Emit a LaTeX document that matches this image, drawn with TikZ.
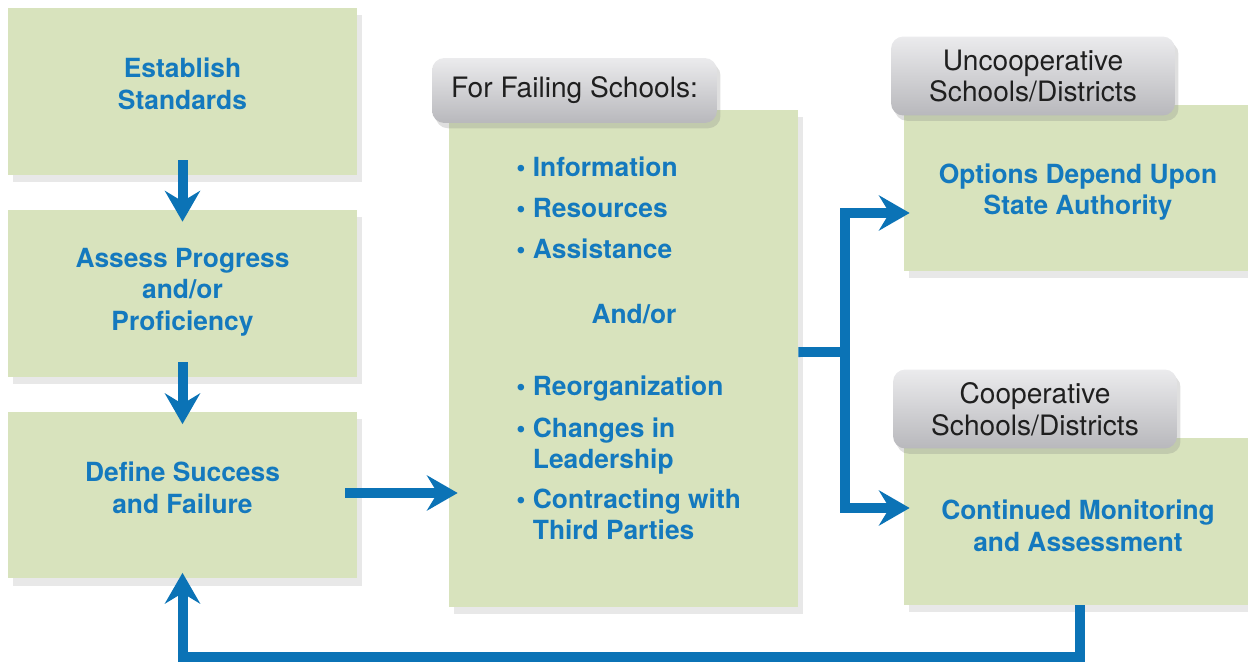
\documentclass[tikz,border=0pt]{standalone}
\usepackage{fontspec}
\setmainfont{TeX Gyre Heros}
\usetikzlibrary{arrows.meta,shadows}
\definecolor{boxgreen}{HTML}{D8E3BD}
\definecolor{flowblue}{HTML}{0B73B6}
\definecolor{textblue}{HTML}{1479BE}
\definecolor{headtop}{HTML}{EBEBED}
\definecolor{headbot}{HTML}{B8B8BC}
\begin{document}
\begin{tikzpicture}[x=0.02cm, y=-0.02cm,
  greenbox/.style={fill=boxgreen, minimum width=6.98cm, minimum height=3.34cm, inner sep=0pt,
    drop shadow={shadow xshift=3pt, shadow yshift=-4pt, opacity=0.18}},
  boxtext/.style={text=textblue, font=\bfseries\fontsize{15}{18}\selectfont, align=center, inner sep=0pt},
  headbox/.style={rounded corners=7pt, top color=headtop, bottom color=headbot, draw=none,
    minimum width=5.7cm, inner sep=0pt,
    drop shadow={shadow xshift=2pt, shadow yshift=-3pt, opacity=0.25},
    text=black!88, font=\fontsize{16}{18}\selectfont, align=center},
  item/.style={text=textblue, font=\bfseries\fontsize{15}{18}\selectfont, inner sep=0pt},
  flow/.style={draw=flowblue, line width=0.2cm, -{Stealth[length=17.5pt, width=20pt, inset=6pt]}},
  flowline/.style={draw=flowblue, line width=0.2cm}]
\useasboundingbox (0,0) rectangle (1248,662);

\node[greenbox] (establish) at (182.5,91.5) {};
\node[greenbox] (assess) at (182.5,293.5) {};
\node[greenbox] (define) at (182.5,495) {};
\node[greenbox, minimum height=9.94cm] (fail) at (623.5,358.5) {};
\node[greenbox, minimum width=6.88cm, minimum height=3.32cm] (uncoop) at (1076,188) {};
\node[greenbox, minimum width=6.88cm] (coop) at (1076,521.5) {};

\node[boxtext] (establishtext) at (182.5,84) {Establish\\Standards};
\node[boxtext] (assesstext) at (182.5,292) {Assess Progress\\and/or\\Proficiency};
\node[boxtext] (definetext) at (182.5,488) {Define Success\\and Failure};
\node[boxtext] (uncooptext) at (1078,192) {Options Depend Upon\\State Authority};
\node[boxtext] (cooptext) at (1078,526) {Continued Monitoring\\and Assessment};

\node[headbox, minimum height=1.3cm] (failhead) at (574.5,90.5) {For Failing Schools:};
\node[headbox, minimum width=5.68cm, minimum height=1.58cm] (uncoophead) at (1033,76) {Uncooperative\\Schools/Districts};
\node[headbox, minimum width=5.68cm, minimum height=1.58cm] (coophead) at (1035,409) {Cooperative\\Schools/Districts};

\node[item, anchor=base west] (info) at (516,177) {\textbullet\ Information};
\node[item, anchor=base west] (resources) at (516,218) {\textbullet\ Resources};
\node[item, anchor=base west] (assist) at (516,259) {\textbullet\ Assistance};
\node[item, anchor=base] (andor) at (634,324) {And/or};
\node[item, anchor=base west] (reorg) at (516,396) {\textbullet\ Reorganization};
\node[item, anchor=base west] (changes) at (516,437) {\textbullet\ \parbox[t]{5cm}{Changes in\\Leadership}};
\node[item, anchor=base west] (contract) at (516,508) {\textbullet\ \parbox[t]{5cm}{Contracting with\\Third Parties}};

\coordinate (split) at (845,352);
\draw[flow] ([yshift=0.3cm]establish.south) -- ([yshift=-0.24cm]assess.north);
\draw[flow] ([yshift=0.3cm]assess.south) -- ([yshift=-0.26cm]define.north);
\draw[flow] ([xshift=-0.24cm, yshift=0.04cm]define.east) -- ([xshift=0.18cm, yshift=0.04cm]define.east -| fail.west);
\draw[flowline] ([yshift=0.13cm]fail.east) -- (split);
\draw[flow] (split) |- ([xshift=0.12cm, yshift=-0.5cm]uncoop.west);
\draw[flow] (split) |- ([xshift=0.12cm, yshift=0.27cm]coop.west);
\draw[flow] ([xshift=0.08cm]coop.south) -- ++(0,52) -| ([yshift=0.12cm]define.south);
\end{tikzpicture}
\end{document}
